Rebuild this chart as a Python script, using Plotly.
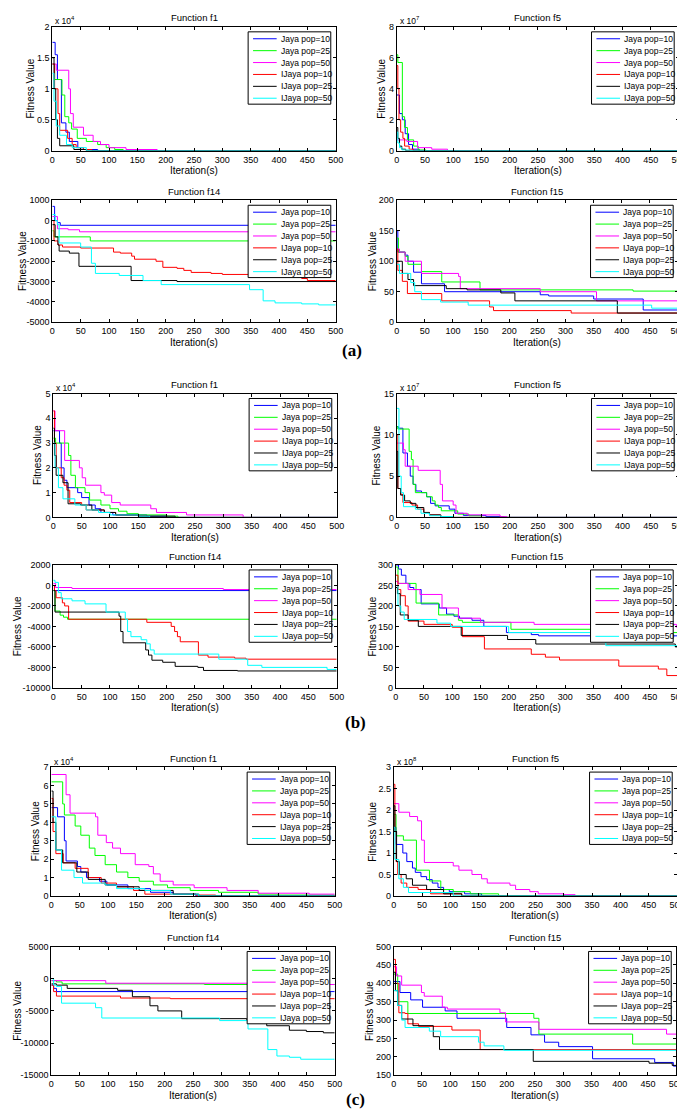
import plotly.graph_objects as go

W, H = 685, 1109
FONT = "'Liberation Sans', Arial, sans-serif"

SERIES = ["Jaya pop=10", "Jaya pop=25", "Jaya pop=50",
          "IJaya pop=10", "IJaya pop=25", "IJaya pop=50"]
COLORS = ["#0000ff", "#00ff00", "#ff00ff", "#ff0000", "#000000", "#00ffff"]
X_TICKS = [0, 50, 100, 150, 200, 250, 300, 350, 400, 450, 500]

# ---------------- (a) ----------------
A_F1 = {  # x 10^4
    "Jaya pop=10": [(0, 1.75), (5, 1.55), (9, 1.15), (16, 0.45), (24, 0.3), (30, 0.15), (45, 0.05), (55, 0.02), (80, 0)],
    "Jaya pop=25": [(0, 1.4), (4, 1.15), (17, 0.9), (22, 0.55), (29, 0.45), (34, 0.35), (44, 0.2), (60, 0.15), (80, 0.1), (95, 0.05), (110, 0.02), (125, 0)],
    "Jaya pop=50": [(0, 1.4), (7, 1.3), (29, 1.0), (32, 0.6), (37, 0.38), (55, 0.25), (72, 0.15), (85, 0.1), (100, 0.05), (130, 0.02), (185, 0)],
    "IJaya pop=10": [(0, 1.4), (4, 1.0), (10, 0.6), (13, 0.33), (27, 0.2), (35, 0.1), (42, 0.05), (55, 0.02), (70, 0)],
    "IJaya pop=25": [(0, 1.5), (3, 1.0), (6, 0.5), (9, 0.2), (13, 0.08), (38, 0.02), (60, 0)],
    "IJaya pop=50": [(0, 1.25), (3, 0.8), (7, 0.4), (13, 0.25), (25, 0.1), (35, 0.05), (60, 0)],
}
A_F5 = {  # x 10^7
    "Jaya pop=10": [(0, 3.6), (5, 2.4), (10, 2.0), (15, 1.1), (21, 0.4), (28, 0.1), (40, 0)],
    "Jaya pop=25": [(0, 6.2), (2, 5.7), (10, 2.2), (14, 1.5), (19, 0.7), (30, 0.3), (38, 0.05), (52, 0)],
    "Jaya pop=50": [(0, 0.7), (18, 0.6), (37, 0.2), (62, 0.1), (90, 0)],
    "IJaya pop=10": [(0, 5.5), (2, 4.0), (4, 2.0), (7, 1.2), (11, 0.8), (14, 0.3), (22, 0.1), (30, 0)],
    "IJaya pop=25": [(0, 1.5), (2, 0.8), (5, 0.3), (9, 0.1), (16, 0)],
    "IJaya pop=50": [(0, 1.2), (2, 0.5), (5, 0.2), (9, 0.05), (25, 0)],
}
A_F14 = {
    "Jaya pop=10": [(0, 700), (4, 0), (9, -100), (14, -230)],
    "Jaya pop=25": [(0, -500), (3, -800), (67, -1000)],
    "Jaya pop=50": [(0, 200), (9, -400), (28, -450), (48, -550)],
    "IJaya pop=10": [(0, 0), (3, -1000), (10, -1200), (18, -1300), (50, -1350), (108, -1550), (120, -1600), (140, -1750), (145, -1900), (183, -2000), (195, -2300), (220, -2350), (232, -2450), (245, -2550), (280, -2600), (300, -2650), (440, -2850), (450, -2950)],
    "IJaya pop=25": [(0, -200), (5, -800), (10, -1200), (12, -1500), (30, -1600), (47, -2250), (139, -2950), (220, -3000)],
    "IJaya pop=50": [(0, 300), (5, 0), (9, -200), (12, -1100), (50, -1300), (69, -2100), (76, -2600), (118, -2700), (160, -2950), (192, -3150), (348, -3400), (372, -3950), (393, -4050), (440, -4100), (470, -4150)],
}
A_F15 = {
    "Jaya pop=10": [(0, 150), (2, 115), (15, 110), (20, 100), (30, 82), (44, 63), (85, 50), (255, 45), (270, 43), (350, 38), (438, 20)],
    "Jaya pop=25": [(0, 138), (3, 115), (15, 108), (20, 95), (44, 83), (80, 66), (148, 53), (420, 51)],
    "Jaya pop=50": [(0, 120), (5, 115), (15, 100), (44, 80), (110, 75), (113, 55), (255, 50), (355, 35)],
    "IJaya pop=10": [(0, 120), (2, 85), (10, 67), (19, 47), (80, 35), (165, 25), (172, 19), (310, 15)],
    "IJaya pop=25": [(0, 100), (10, 80), (20, 70), (30, 60), (88, 55), (125, 53), (185, 48), (210, 35), (392, 15)],
    "IJaya pop=50": [(0, 95), (5, 80), (25, 65), (32, 50), (44, 37), (78, 33), (127, 28), (453, 23)],
}

# ---------------- (b) ----------------
B_F1 = {  # x 10^4
    "Jaya pop=10": [(0, 3.5), (11, 3.0), (14, 2.0), (19, 1.5), (24, 1.2), (43, 1.0), (50, 0.8), (63, 0.5), (74, 0.35), (84, 0.2), (105, 0.1), (165, 0.05), (200, 0)],
    "Jaya pop=25": [(0, 3.2), (4, 3.0), (27, 2.5), (31, 1.7), (39, 1.2), (56, 1.0), (64, 0.7), (84, 0.5), (100, 0.35), (115, 0.25), (130, 0.15), (150, 0.1), (200, 0.05), (220, 0)],
    "Jaya pop=50": [(0, 4.3), (3, 3.5), (20, 2.3), (46, 2.0), (51, 1.6), (57, 1.3), (84, 1.0), (90, 0.9), (103, 0.6), (118, 0.5), (172, 0.35), (182, 0.2), (235, 0.1), (335, 0)],
    "IJaya pop=10": [(0, 4.3), (2, 3.0), (5, 2.0), (14, 1.6), (19, 1.3), (24, 1.1), (29, 0.6), (50, 0.5), (58, 0.3), (90, 0.2), (110, 0.1), (150, 0.05), (170, 0)],
    "IJaya pop=25": [(0, 3.6), (2, 2.5), (5, 1.7), (17, 1.4), (26, 0.55), (48, 0.5), (68, 0.3), (90, 0.2), (110, 0.1), (150, 0.05), (215, 0)],
    "IJaya pop=50": [(0, 3.0), (3, 2.0), (9, 1.2), (17, 0.75), (38, 0.5), (58, 0.3), (80, 0.2), (100, 0.1), (150, 0.05), (170, 0)],
}
B_F5 = {  # x 10^7
    "Jaya pop=10": [(0, 11), (3, 10.8), (11, 7.8), (19, 6.2), (24, 5.0), (29, 4.0), (34, 3.2), (44, 3.0), (53, 2.5), (60, 1.7), (68, 1.4), (93, 1.0), (103, 0.5), (118, 0.25), (158, 0.1), (190, 0)],
    "Jaya pop=25": [(0, 11), (2, 10.7), (22, 8.0), (26, 7.0), (29, 4.0), (33, 3.0), (53, 2.5), (63, 2.0), (68, 1.5), (74, 1.2), (79, 0.8), (108, 0.4), (128, 0.2), (150, 0)],
    "Jaya pop=50": [(0, 9), (12, 8.2), (15, 6.2), (38, 5.7), (77, 4.0), (81, 2.0), (100, 1.5), (105, 0.5), (125, 0.3), (183, 0.1), (195, 0)],
    "IJaya pop=10": [(0, 10), (2, 3.5), (7, 2.8), (11, 1.8), (27, 1.5), (37, 1.0), (48, 0.6), (58, 0.3), (78, 0.1), (100, 0)],
    "IJaya pop=25": [(0, 8), (2, 3.5), (7, 2.7), (14, 2.0), (24, 1.7), (34, 1.2), (48, 0.6), (58, 0.3), (78, 0.1), (100, 0)],
    "IJaya pop=50": [(0, 13.2), (4, 5.0), (8, 3.0), (12, 1.3), (33, 1.0), (43, 0.5), (58, 0.2), (78, 0.1), (100, 0)],
}
B_F14 = {
    "Jaya pop=10": [(0, 0), (2, -500)],
    "Jaya pop=25": [(0, -500), (3, -2500), (12, -2900), (18, -3100), (25, -3300)],
    "Jaya pop=50": [(0, 200), (4, -200), (33, -300), (300, -400)],
    "IJaya pop=10": [(0, 0), (2, -500), (5, -1200), (16, -1700), (20, -2000), (27, -3300), (165, -3600), (208, -4000), (214, -4500), (219, -5000), (224, -5500), (256, -6800), (273, -7000), (320, -7100), (340, -7200)],
    "IJaya pop=25": [(0, -500), (3, -2600), (116, -3000), (119, -4500), (123, -5600), (163, -6300), (168, -6800), (174, -7300), (193, -7500), (215, -7900), (255, -8000), (265, -8300), (325, -8350)],
    "IJaya pop=50": [(0, 500), (3, 300), (9, -700), (14, -1300), (33, -1500), (56, -1800), (93, -2600), (127, -3300), (131, -4500), (137, -5000), (155, -5300), (165, -5700), (171, -6300), (178, -6700), (292, -7200), (343, -7800), (368, -8000), (483, -8200)],
}
B_F15 = {
    "Jaya pop=10": [(0, 300), (5, 290), (10, 275), (18, 255), (25, 245), (32, 240), (45, 205), (77, 195), (90, 180), (103, 175), (113, 170), (135, 165), (156, 150), (196, 135), (240, 130), (253, 127)],
    "Jaya pop=25": [(0, 295), (4, 255), (36, 207), (76, 178), (111, 165), (118, 160), (204, 143), (490, 135)],
    "Jaya pop=50": [(0, 260), (4, 255), (22, 240), (43, 228), (82, 195), (111, 170), (150, 160), (245, 155), (497, 148)],
    "IJaya pop=10": [(0, 275), (4, 240), (9, 225), (17, 200), (22, 163), (50, 155), (100, 148), (118, 125), (157, 95), (240, 82), (265, 75), (290, 68), (395, 53), (465, 46), (480, 30)],
    "IJaya pop=25": [(0, 245), (3, 230), (8, 178), (22, 165), (40, 150), (116, 128), (198, 118), (248, 107), (495, 100)],
    "IJaya pop=50": [(0, 250), (4, 200), (9, 185), (15, 167), (73, 158), (97, 150), (200, 135), (372, 103)],
}

# ---------------- (c) ----------------
C_F1 = {  # x 10^4
    "Jaya pop=10": [(0, 4.8), (11, 4.3), (23, 3.0), (26, 1.9), (46, 1.6), (52, 1.3), (62, 1.0), (85, 0.8), (98, 0.6), (135, 0.4), (175, 0.2), (215, 0.1), (255, 0)],
    "Jaya pop=25": [(0, 6.2), (20, 5.0), (23, 4.4), (42, 3.8), (52, 3.3), (67, 2.6), (77, 2.2), (95, 1.7), (115, 1.3), (135, 1.0), (155, 0.8), (180, 0.6), (205, 0.45), (245, 0.3), (295, 0.2), (365, 0.1), (400, 0.05)],
    "Jaya pop=50": [(0, 6.6), (26, 5.5), (33, 4.5), (78, 4.3), (82, 3.3), (97, 2.9), (108, 2.6), (122, 2.3), (148, 1.7), (172, 1.6), (180, 1.2), (192, 0.8), (215, 0.6), (252, 0.45), (310, 0.3), (365, 0.15), (455, 0.1)],
    "IJaya pop=10": [(0, 5.3), (3, 3.5), (8, 2.3), (21, 1.8), (42, 1.5), (65, 1.0), (88, 0.7), (115, 0.5), (145, 0.3), (165, 0.1), (255, 0.05), (290, 0)],
    "IJaya pop=25": [(0, 5.7), (3, 4.0), (8, 2.5), (20, 1.8), (45, 1.3), (65, 0.9), (95, 0.6), (115, 0.5), (155, 0.3), (215, 0.1), (260, 0)],
    "IJaya pop=50": [(0, 4.3), (8, 2.5), (18, 1.4), (40, 1.0), (55, 0.7), (95, 0.6), (115, 0.4), (165, 0.3), (210, 0.1), (260, 0)],
}
C_F5 = {  # x 10^8
    "Jaya pop=10": [(0, 1.6), (4, 1.2), (16, 1.0), (23, 0.8), (33, 0.65), (38, 0.55), (48, 0.45), (58, 0.38), (68, 0.3), (78, 0.2), (88, 0.15), (98, 0.1), (125, 0.05), (155, 0)],
    "Jaya pop=25": [(0, 1.9), (4, 1.4), (17, 1.3), (40, 0.6), (63, 0.35), (83, 0.15), (105, 0.1), (135, 0.05), (185, 0)],
    "Jaya pop=50": [(0, 2.15), (9, 1.95), (28, 1.85), (42, 1.75), (49, 1.3), (54, 0.78), (105, 0.7), (115, 0.6), (138, 0.5), (155, 0.4), (165, 0.3), (205, 0.25), (215, 0.15), (240, 0.1), (255, 0.05), (300, 0.03), (320, 0)],
    "IJaya pop=10": [(0, 2.6), (2, 1.5), (4, 0.8), (7, 0.5), (13, 0.3), (23, 0.2), (43, 0.15), (65, 0.05), (120, 0)],
    "IJaya pop=25": [(0, 2.1), (2, 1.5), (5, 0.8), (10, 0.5), (22, 0.4), (33, 0.25), (58, 0.15), (88, 0.05), (120, 0)],
    "IJaya pop=50": [(0, 1.6), (2, 0.85), (9, 0.4), (17, 0.2), (26, 0.08), (105, 0)],
}
C_F14 = {
    "Jaya pop=10": [(0, -1000), (4, -1500), (9, -2000)],
    "Jaya pop=25": [(0, -300), (9, -500), (19, -800), (270, -900)],
    "Jaya pop=50": [(0, -300), (96, -700), (480, -900)],
    "IJaya pop=10": [(0, -1000), (4, -2000), (9, -2700), (122, -3000), (210, -3100)],
    "IJaya pop=25": [(0, -800), (9, -1000), (28, -1500), (117, -1800), (143, -2800), (174, -4200), (188, -5000), (230, -6200), (345, -6500), (380, -7300), (420, -8000), (450, -8200), (480, -8400)],
    "IJaya pop=50": [(0, 0), (4, -1000), (9, -1200), (18, -3800), (78, -4500), (89, -6100), (297, -6500), (347, -7800), (382, -11000), (398, -12000), (420, -12200), (440, -12500)],
}
C_F15 = {
    "Jaya pop=10": [(0, 405), (11, 375), (30, 355), (51, 335), (91, 325), (112, 305), (200, 280), (243, 260), (267, 240), (292, 228), (352, 195), (462, 185), (495, 175)],
    "Jaya pop=25": [(0, 425), (7, 350), (25, 318), (248, 305), (257, 262), (423, 235)],
    "Jaya pop=50": [(0, 445), (5, 420), (14, 395), (49, 375), (54, 365), (86, 335), (95, 330), (188, 320), (198, 295), (257, 275), (483, 262)],
    "IJaya pop=10": [(0, 465), (3, 400), (9, 320), (20, 318), (25, 290), (44, 283), (103, 273), (153, 220)],
    "IJaya pop=25": [(0, 430), (3, 380), (7, 340), (14, 303), (34, 285), (70, 255), (81, 220), (247, 188), (452, 183), (493, 177)],
    "IJaya pop=50": [(0, 380), (7, 340), (14, 300), (20, 280), (63, 270), (83, 255), (150, 240), (160, 230), (195, 218)],
}

# y tick values per panel
Y_A_F1 = [0, 0.5, 1, 1.5, 2]
Y_A_F5 = [0, 2, 4, 6, 8]
Y_A_F14 = [-5000, -4000, -3000, -2000, -1000, 0, 1000]
Y_A_F15 = [0, 50, 100, 150, 200]
Y_B_F1 = [0, 1, 2, 3, 4, 5]
Y_B_F5 = [0, 5, 10, 15]
Y_B_F14 = [-10000, -8000, -6000, -4000, -2000, 0, 2000]
Y_B_F15 = [0, 50, 100, 150, 200, 250, 300]
Y_C_F1 = [0, 1, 2, 3, 4, 5, 6, 7]
Y_C_F5 = [0, 0.5, 1, 1.5, 2, 2.5, 3]
Y_C_F14 = [-15000, -10000, -5000, 0, 5000]
Y_C_F15 = [150, 200, 250, 300, 350, 400, 450, 500]

# layout of panels (pixel boxes: left, top, right, bottom)
PANELS = [
    dict(data=A_F1, title="Function f1", yt=Y_A_F1, exp="4", box=(42, 14, 330, 139), ylx=20),
    dict(data=A_F5, title="Function f5", yt=Y_A_F5, exp="7", box=(392, 14, 679, 139), ylx=377),
    dict(data=A_F14, title="Function f14", yt=Y_A_F14, exp=None, box=(42, 189, 330, 312), ylx=11),
    dict(data=A_F15, title="Function f15", yt=Y_A_F15, exp=None, box=(392, 189, 678, 312), ylx=367),
    dict(data=B_F1, title="Function f1", yt=Y_B_F1, exp="4", box=(43, 384, 331, 509), ylx=27),
    dict(data=B_F5, title="Function f5", yt=Y_B_F5, exp="7", box=(392, 384, 679, 509), ylx=371),
    dict(data=B_F14, title="Function f14", yt=Y_B_F14, exp=None, box=(43, 557, 331, 681), ylx=7),
    dict(data=B_F15, title="Function f15", yt=Y_B_F15, exp=None, box=(391, 557, 678, 681), ylx=367),
    dict(data=C_F1, title="Function f1", yt=Y_C_F1, exp="4", box=(41, 761, 329, 891), ylx=25),
    dict(data=C_F5, title="Function f5", yt=Y_C_F5, exp="8", box=(389, 761, 677, 891), ylx=367),
    dict(data=C_F14, title="Function f14", yt=Y_C_F14, exp=None, box=(41, 942, 329, 1072), ylx=7),
    dict(data=C_F15, title="Function f15", yt=Y_C_F15, exp=None, box=(389, 942, 676, 1072), ylx=365),
]
GROUP_LABELS = [("(a)", 347, 341), ("(b)", 350, 716), ("(c)", 350, 1096)]


def fx(x):
    return x / W


def fy(y):
    return 1 - y / H


def fmt(v):
    if float(v).is_integer():
        return str(int(v))
    return ("%g" % v)


fig = go.Figure()
shapes = []
annotations = []
layout_axes = {}

for i, p in enumerate(PANELS):
    n = i + 1
    suf = "" if n == 1 else str(n)
    xa, ya = "x" + suf, "y" + suf
    L, T, R, B = p["box"]
    for s, name in enumerate(SERIES):
        pts = p["data"][name]
        xs = [q[0] for q in pts] + [500]
        ys = [q[1] for q in pts] + [pts[-1][1]]
        fig.add_trace(go.Scatter(
            x=xs, y=ys, mode="lines", name=name, showlegend=False,
            line=dict(color=COLORS[s], width=1, shape="hv"),
            xaxis=xa, yaxis=ya, hoverinfo="skip"))
    common = dict(showline=True, linecolor="black", linewidth=1, mirror="ticks",
                  ticks="inside", ticklen=3, tickcolor="black", tickwidth=1,
                  showgrid=False, zeroline=False,
                  tickfont=dict(size=9, color="black", family=FONT))
    layout_axes["xaxis" + suf] = dict(domain=[fx(L), fx(R)], anchor=ya, range=[0, 500],
                                      tickvals=X_TICKS, ticktext=[fmt(v) for v in X_TICKS],
                                      **common)
    yt = p["yt"]
    layout_axes["yaxis" + suf] = dict(domain=[fy(B), fy(T)], anchor=xa,
                                      range=[yt[0], yt[-1]], tickvals=yt,
                                      ticktext=[fmt(v) for v in yt], **common)
    # title
    annotations.append(dict(text=p["title"], x=fx((L + R) / 2), y=fy(T - 9), xref="paper", yref="paper",
                            showarrow=False, xanchor="center", yanchor="middle",
                            font=dict(size=9.5, color="black", family=FONT)))
    # x label
    annotations.append(dict(text="Iteration(s)", x=fx((L + R) / 2), y=fy(B + 20), xref="paper", yref="paper",
                            showarrow=False, xanchor="center", yanchor="middle",
                            font=dict(size=10, color="black", family=FONT)))
    # y label
    annotations.append(dict(text="Fitness Value", x=fx(p["ylx"]), y=fy((T + B) / 2), xref="paper", yref="paper",
                            showarrow=False, xanchor="center", yanchor="middle", textangle=-90,
                            font=dict(size=10, color="black", family=FONT)))
    # exponent
    if p["exp"]:
        annotations.append(dict(text="x 10<sup>" + p["exp"] + "</sup>", x=fx(L + 1), y=fy(T - 6),
                                xref="paper", yref="paper", showarrow=False,
                                xanchor="left", yanchor="middle",
                                font=dict(size=8.5, color="black", family=FONT)))
    # legend box
    lx0, lx1, ly0, ly1 = R - 89, R - 5, T + 5, T + 78
    shapes.append(dict(type="rect", xref="paper", yref="paper",
                       x0=fx(lx0), x1=fx(lx1), y0=fy(ly1), y1=fy(ly0),
                       fillcolor="white", line=dict(color="black", width=1), layer="above"))
    for s, name in enumerate(SERIES):
        ry = ly0 + 7 + 12 * s
        shapes.append(dict(type="line", xref="paper", yref="paper",
                           x0=fx(lx0 + 5), x1=fx(lx0 + 29), y0=fy(ry), y1=fy(ry),
                           line=dict(color=COLORS[s], width=1), layer="above"))
        annotations.append(dict(text=name, x=fx(lx0 + 31), y=fy(ry), xref="paper", yref="paper",
                                showarrow=False, xanchor="left", yanchor="middle",
                                font=dict(size=8.5, color="black", family=FONT)))

for txt, x, y in GROUP_LABELS:
    annotations.append(dict(text="<b>" + txt + "</b>", x=fx(x), y=fy(y), xref="paper", yref="paper",
                            showarrow=False, xanchor="center", yanchor="middle",
                            font=dict(size=17, color="black",
                                      family="'Liberation Serif', 'Times New Roman', serif")))

fig.update_layout(
    width=W, height=H, margin=dict(l=0, r=0, t=0, b=0),
    paper_bgcolor="white", plot_bgcolor="white",
    showlegend=False, shapes=shapes, annotations=annotations,
    **layout_axes)

fig.write_html("out.html")
